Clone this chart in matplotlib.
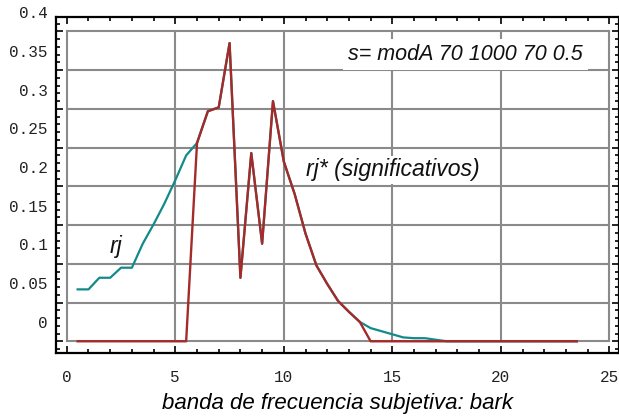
import matplotlib.pyplot as plt
from matplotlib.transforms import ScaledTranslation

# bandas criticas (bark), paso de medio bark
bark = [0.5, 1.0, 1.5, 2.0, 2.5, 3.0, 3.5, 4.0, 4.5, 5.0, 5.5, 6.0,
        6.5, 7.0, 7.5, 8.0, 8.5, 9.0, 9.5, 10.0, 10.5, 11.0, 11.5, 12.0,
        12.5, 13.0, 13.5, 14.0, 14.5, 15.0, 15.5, 16.0, 16.5, 17.0, 17.5, 18.0,
        18.5, 19.0, 19.5, 20.0, 20.5, 21.0, 21.5, 22.0, 22.5, 23.0, 23.5]

# rj: todos los coeficientes
rj = [0.067, 0.067, 0.082, 0.082, 0.095, 0.095, 0.126, 0.151, 0.178, 0.208, 0.240, 0.256,
      0.297, 0.302, 0.385, 0.082, 0.243, 0.126, 0.310, 0.232, 0.190, 0.139, 0.098, 0.074,
      0.052, 0.038, 0.025, 0.017, 0.013, 0.009, 0.005, 0.004, 0.004, 0.002, 0.0, 0.0,
      0.0, 0.0, 0.0, 0.0, 0.0, 0.0, 0.0, 0.0, 0.0, 0.0, 0.0]

# rj*: solo los significativos
rj_sig = [0.0, 0.0, 0.0, 0.0, 0.0, 0.0, 0.0, 0.0, 0.0, 0.0, 0.0, 0.256,
          0.297, 0.302, 0.385, 0.082, 0.243, 0.126, 0.310, 0.232, 0.190, 0.139, 0.098, 0.074,
          0.052, 0.038, 0.025, 0.0, 0.0, 0.0, 0.0, 0.0, 0.0, 0.0, 0.0, 0.0,
          0.0, 0.0, 0.0, 0.0, 0.0, 0.0, 0.0, 0.0, 0.0, 0.0, 0.0]

xticks = [0, 5, 10, 15, 20, 25]
xlabels = ['0', '5', '10', '15', '20', '25']
yticks = [0.0, 0.05, 0.1, 0.15, 0.2, 0.25, 0.3, 0.35, 0.4]
ylabels = ['0', '0.05', '0.1', '0.15', '0.2', '0.25', '0.3', '0.35', '0.4']

W, H = 619, 418
fig = plt.figure(figsize=(W / 100, H / 100), dpi=100)
ax = fig.add_axes([55.5 / W, 65.5 / H, 563 / W, 335.5 / H])
ax.set_xlim(-0.52, 25.42)
ax.set_ylim(-0.0145, 0.4187)

# rejilla gris (incluye el recuadro)
gris = '#8a8a8a'
v = ax.vlines(xticks, 0, 0.4, color=gris, lw=1.5, zorder=1)
h = ax.hlines(yticks, 0, 25, color=gris, lw=1.5, zorder=1)
v.set_capstyle('projecting')
h.set_capstyle('projecting')

ax.plot(bark, rj, color='#138a8a', lw=1.6, zorder=3)
ax.plot(bark, rj_sig, color='#a52a2a', lw=1.7, zorder=4)

txt = dict(style='italic', family='Liberation Sans', color='#111111', va='center', ha='left')
ax.text(12.96, 0.3697, 's= modA 70 1000 70 0.5', fontsize=15.5, zorder=2,
        bbox=dict(facecolor='white', edgecolor='none', pad=3.5), **txt)
ax.text(11.02, 0.2212, 'rj* (significativos)', fontsize=16.6, zorder=2,
        bbox=dict(facecolor='white', edgecolor='none', pad=1.5), **txt)
ax.text(1.99, 0.1218, 'rj', fontsize=16.6, zorder=2, **txt)

for s in ax.spines.values():
    s.set_linewidth(1.6)

ax.set_xticks(xticks, xlabels, family='Liberation Mono', fontsize=11.5, color='#222222')
ax.set_yticks(yticks, ylabels, family='Liberation Mono', fontsize=11.5, color='#222222')
ax.set_xticks(range(26), minor=True)
ax.set_yticks([i * 0.01 for i in range(-1, 42)], minor=True)
ax.tick_params(which='both', direction='in', top=True, right=True, width=1.2)
ax.tick_params(which='major', length=5)
ax.tick_params(which='minor', length=3)
ax.tick_params(axis='x', pad=12.5)
ax.tick_params(axis='y', pad=5.4)

# etiquetas del eje y desplazadas medio intervalo hacia arriba
px_por_unidad = 335.5 / (0.4187 + 0.0145)
desp = ScaledTranslation(0, 0.025 * px_por_unidad / 100, fig.dpi_scale_trans)
for lab in ax.get_yticklabels():
    lab.set_transform(lab.get_transform() + desp)

ax.set_xlabel('banda de frecuencia subjetiva: bark', fontsize=16, style='italic',
              family='Liberation Sans', labelpad=6)

fig.savefig('out.png', dpi=100)
